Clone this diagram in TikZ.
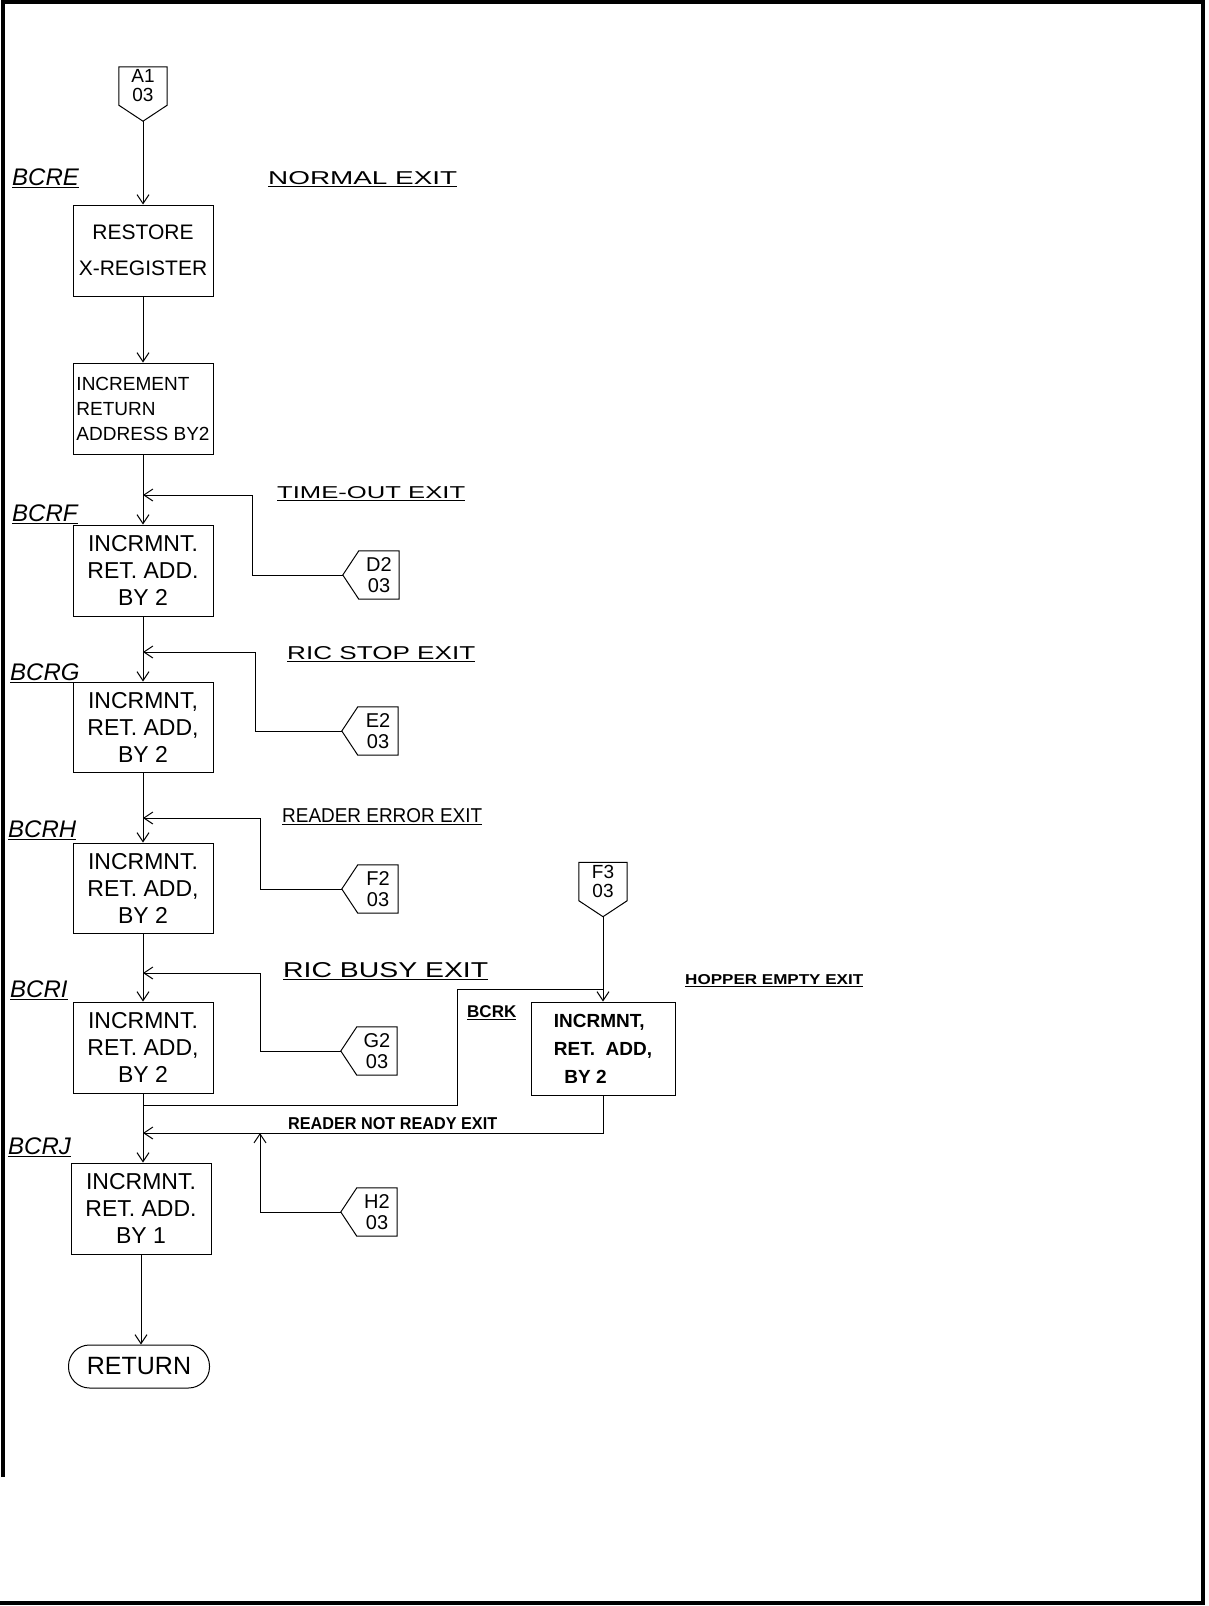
\documentclass[tikz,border=0pt]{standalone}
\usepackage{fontspec}
\setmainfont{Liberation Sans}
\usetikzlibrary{arrows.meta,calc}
\newcommand\lconn[4]{%
  \node[conn,minimum width=40pt,minimum height=48pt] (#1) at (#2,#3) {#4};
  \coordinate (#1tip) at ($(#1.west)+(-16,0)$);
  \draw[ln] (#1.north east) -- (#1.north west) -- (#1tip) -- (#1.south west) -- (#1.south east) -- cycle;}
\newcommand\dconn[4]{%
  \node[conn,minimum width=48pt,minimum height=38pt,font=\fontsize{19}{19}\selectfont] (#1) at (#2,#3) {#4};
  \coordinate (#1tip) at ($(#1.south)+(0,16)$);
  \draw[ln] (#1.south east) -- (#1.north east) -- (#1.north west) -- (#1.south west) -- (#1tip) -- cycle;}
\newcommand\exitlab[3]{\underline{\resizebox{#1pt}{#2pt}{#3}}}
\begin{document}
\begin{tikzpicture}[x=1pt,y=-1pt,
  ln/.style={line width=1pt},
  arr/.style={line width=1pt,-{Straight Barb[length=9pt,width=12pt]}},
  proc/.style={draw,line width=1pt,minimum width=140pt,minimum height=91pt,inner sep=3pt,align=center,font=\fontsize{23}{27}\selectfont},
  conn/.style={inner sep=0pt,align=center,font=\fontsize{20}{21}\selectfont},
  tag/.style={anchor=south west,inner sep=0pt,font=\itshape\fontsize{24}{24}\selectfont},
  exl/.style={anchor=south west,inner sep=0pt,font=\fontsize{14}{14}\selectfont}]
\useasboundingbox (0,0) rectangle (1208,1606);
% frame
\draw[line width=3.5pt] (3,1477) -- (3,2) -- (1203,2) -- (1203,1603) -- (0,1603);

% main column boxes
\node[proc,font=\fontsize{21}{36}\selectfont] (restore) at (143,250.5) {RESTORE\\X-REGISTER};
\node[proc,align=left,font=\fontsize{19}{25}\selectfont] (incr) at (143,408.5) {INCREMENT\\RETURN\\ADDRESS BY2};
\node[proc] (bcrf) at (143,570.5) {INCRMNT.\\RET. ADD.\\BY 2};
\node[proc,minimum height=90pt] (bcrg) at (143,727) {INCRMNT,\\RET. ADD,\\BY 2};
\node[proc,minimum height=90pt] (bcrh) at (143,888) {INCRMNT.\\RET. ADD,\\BY 2};
\node[proc] (bcri) at (143,1047.5) {INCRMNT.\\RET. ADD,\\BY 2};
\node[proc] (bcrj) at (141,1208.5) {INCRMNT.\\RET. ADD.\\BY 1};
\node[draw,line width=1pt,minimum width=141pt,minimum height=43pt,rounded corners=21pt,inner sep=0pt,font=\fontsize{25}{25}\selectfont] (ret) at (139,1366.5) {RETURN};
\node[proc,minimum width=144pt,minimum height=93pt,align=left,font=\bfseries\fontsize{19}{28}\selectfont] (bcrk) at (603,1048.5) {INCRMNT,\\RET.\ \ ADD,\\\ \ BY 2};

% entry tags
\node[tag] (tE) at (12,188) {\underline{BCRE}};
\node[tag] (tF) at (12,524) {\underline{BCRF}};
\node[tag] (tG) at (10,683) {\underline{BCRG}};
\node[tag] (tH) at (8,840) {\underline{BCRH}};
\node[tag] (tI) at (10,1000) {\underline{BCRI}};
\node[tag] (tJ) at (8,1157) {\underline{BCRJ}};
\node[tag,font=\bfseries\fontsize{17}{17}\selectfont] (tK) at (467,1020) {\underline{BCRK}};

% exit labels
\node[exl] (xN) at (268,187) {\exitlab{189}{13}{NORMAL EXIT}};
\node[exl] (xT) at (277,501) {\exitlab{188}{12}{TIME-OUT EXIT}};
\node[exl] (xS) at (287,662) {\exitlab{188}{13}{RIC STOP EXIT}};
\node[exl] (xR) at (282,825) {\exitlab{200}{14}{READER ERROR EXIT}};
\node[exl] (xB) at (283,980) {\exitlab{205}{15}{RIC BUSY EXIT}};
\node[exl,font=\bfseries\fontsize{14}{14}\selectfont] (xH) at (685,987) {\exitlab{178}{10}{HOPPER EMPTY EXIT}};
\node[exl,font=\bfseries\fontsize{14}{14}\selectfont] (xNR) at (288,1130) {\resizebox{209pt}{12pt}{READER NOT READY EXIT}};

% off-page connectors
\dconn{a1}{143}{86}{A1\\03}
\dconn{f3}{603}{881.5}{F3\\03}
\lconn{d2}{379}{575}{D2\\03}
\lconn{e2}{378}{731}{E2\\03}
\lconn{f2}{378}{889}{F2\\03}
\lconn{g2}{377}{1051}{G2\\03}
\lconn{h2}{377}{1212}{H2\\03}

% junction points on the main line
\coordinate (jf) at (143,495);
\coordinate (jg) at (143,652);
\coordinate (jh) at (143,818);
\coordinate (ji) at (143,973);
\coordinate (jk) at (143,1105);
\coordinate (jj) at (143,1133);
\coordinate (bf) at (252,495);
\coordinate (bg) at (255,652);
\coordinate (bh) at (260,818);
\coordinate (bi) at (260,973);
\coordinate (bj) at (260,1133);
\coordinate (kb) at (457,1105);
\coordinate (kt) at (603,989);

% main flow
\draw[arr] (a1tip) -- (restore.north);
\draw[arr] (restore) -- (incr);
\draw[arr] (incr) -- (bcrf);
\draw[arr] (bcrf) -- (bcrg);
\draw[arr] (bcrg) -- (bcrh);
\draw[arr] (bcrh) -- (bcri);
\draw[arr] (bcri.south) -- (bcri.south |- bcrj.north);
\draw[arr] (bcrj.south) -- (bcrj.south |- ret.north);

% side entries
\draw[arr] (d2tip) -| (bf) -- (jf);
\draw[arr] (e2tip) -| (bg) -- (jg);
\draw[arr] (f2tip) -| (bh) -- (jh);
\draw[arr] (g2tip) -| (bi) -- (ji);
\draw[arr] (h2tip) -| (bj);

% BCRK branch
\draw[ln] (jk) -- (kb) |- (kt);
\draw[arr] (f3tip) -- (bcrk.north);
\draw[arr] (bcrk.south) |- (jj);
\end{tikzpicture}
\end{document}
